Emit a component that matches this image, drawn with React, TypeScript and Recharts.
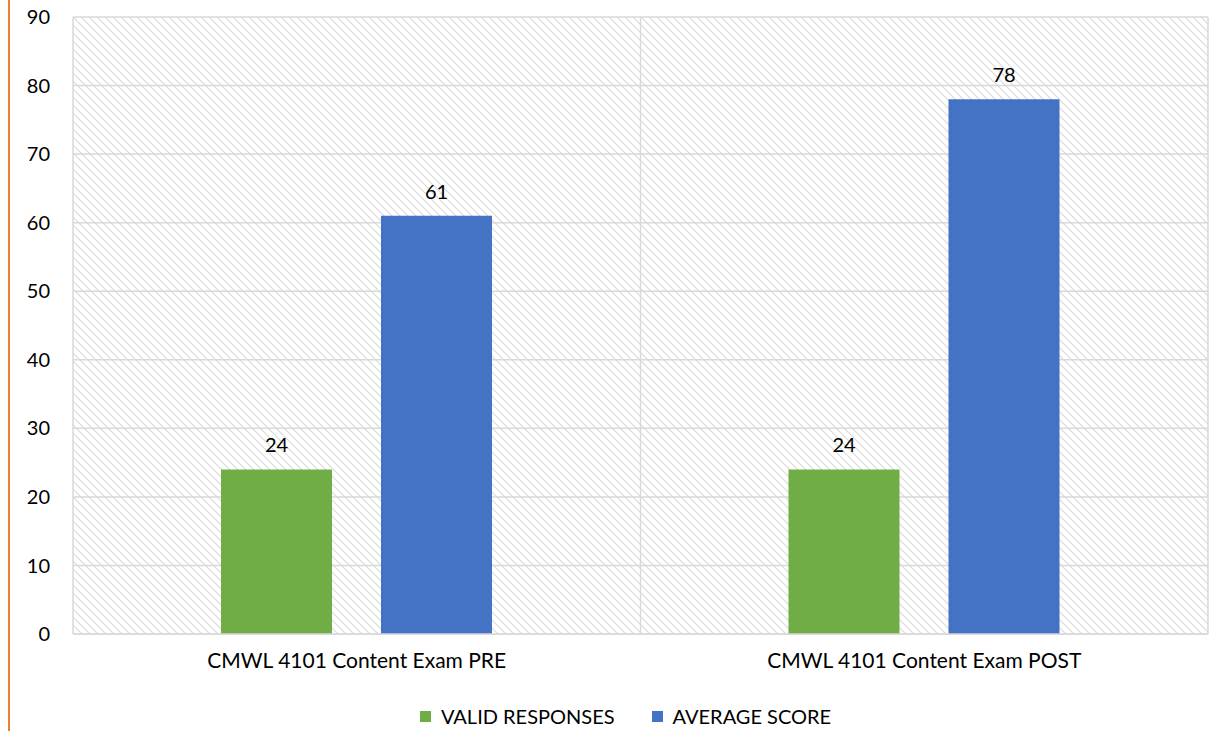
import { BarChart, Bar, XAxis, YAxis, CartesianGrid, Legend, LabelList } from "recharts";

const categories = ["CMWL 4101 Content Exam PRE", "CMWL 4101 Content Exam POST"];
const validResponses = [24, 24];
const averageScore = [61, 78];
const yTicks = [0, 10, 20, 30, 40, 50, 60, 70, 80, 90];

const rows = categories.map((name, i) => ({
  name,
  valid: validResponses[i],
  avg: averageScore[i],
}));

const FONT = "Lato, 'Open Sans', sans-serif";
const order = ["valid", "avg"];

// legend drawn by hand so the spacing looks like the office chart
function LegendRow({ payload }: any) {
  const items = [...(payload || [])].sort(
    (a: any, b: any) => order.indexOf(a.dataKey) - order.indexOf(b.dataKey)
  );
  return (
    <div style={{ display: "flex", justifyContent: "center", alignItems: "center", gap: 37, fontSize: 20, fontFamily: FONT, color: "#000", paddingLeft: 43, paddingTop: 12 }}>
      {items.map((it: any) => (
        <div key={it.dataKey} style={{ display: "flex", alignItems: "center", gap: 10 }}>
          <span style={{ display: "inline-block", width: 11, height: 11, background: it.color }} />
          <span>{it.value}</span>
        </div>
      ))}
    </div>
  );
}

export default function App() {
  return (
    <div style={{ position: "absolute", left: 0, top: 0, width: 1221, height: 731, background: "#fff", fontFamily: FONT }}>
      {/* orange rule on the left edge */}
      <div style={{ position: "absolute", left: 8, top: 0, width: 2, height: 731, background: "#ED7D31" }} />
      <BarChart
        width={1221}
        height={731}
        data={rows}
        margin={{ top: 17, right: 13, left: 0, bottom: 2 }}
        barCategoryGap="26%"
        barGap={49}
      >
        <defs>
          <pattern id="hatch" patternUnits="userSpaceOnUse" width="8" height="8">
            <rect width="8" height="8" fill="#fff" />
            <path d="M0,0 L8,8 M-2,6 L2,10 M6,-2 L10,2" stroke="#dadada" strokeWidth="1.2" />
          </pattern>
        </defs>
        <CartesianGrid
          stroke="#d9d9d9"
          strokeWidth={1.5}
          fill="url(#hatch)"
          fillOpacity={1}
          verticalCoordinatesGenerator={({ offset }: any) => [
            offset.left,
            offset.left + offset.width / 2,
            offset.left + offset.width,
          ]}
        />
        <XAxis
          dataKey="name"
          axisLine={{ stroke: "#d9d9d9", strokeWidth: 1.5 }}
          tickLine={false}
          tick={{ fill: "#000", fontSize: 21, fontFamily: FONT }}
          tickMargin={13}
          height={58}
        />
        <YAxis
          domain={[0, 90]}
          ticks={yTicks}
          axisLine={false}
          tickLine={false}
          tick={{ fill: "#000", fontSize: 20, fontFamily: FONT }}
          tickMargin={17}
          width={73}
        />
        <Legend verticalAlign="bottom" height={37} content={<LegendRow />} />
        <Bar dataKey="valid" name="VALID RESPONSES" fill="#70AD47" barSize={111} isAnimationActive={false}>
          <LabelList dataKey="valid" position="top" offset={17} fill="#000" fontSize={20} fontFamily={FONT} />
        </Bar>
        <Bar dataKey="avg" name="AVERAGE SCORE" fill="#4472C4" barSize={111} isAnimationActive={false}>
          <LabelList dataKey="avg" position="top" offset={17} fill="#000" fontSize={20} fontFamily={FONT} />
        </Bar>
      </BarChart>
    </div>
  );
}
